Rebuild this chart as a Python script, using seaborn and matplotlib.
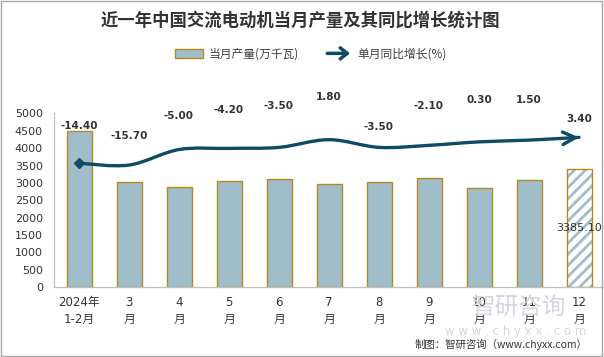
import numpy as np
import pandas as pd
import seaborn as sns
import matplotlib.pyplot as plt
from matplotlib.path import Path
from matplotlib.patches import PathPatch, Patch, Rectangle, FancyArrowPatch
from matplotlib.legend_handler import HandlerPatch


# ==========================================
# DATA
# ==========================================

months = ['2024年\n1-2月', '3\n月', '4\n月', '5\n月', '6\n月', '7\n月',
          '8\n月', '9\n月', '10\n月', '11\n月', '12\n月']

# 当月产量 (万千瓦)
output = [4490, 3015, 2875, 3045, 3110, 2960, 3015, 3130, 2845, 3085, 3385.10]

# 单月同比增长 (%)
growth = [-14.40, -15.70, -5.00, -4.20, -3.50, 1.80, -3.50, -2.10, 0.30, 1.50, 3.40]

title = '近一年中国交流电动机当月产量及其同比增长统计图'
bar_label = '当月产量(万千瓦)'
line_label = '单月同比增长(%)'
footer = '制图：智研咨询（www.chyxx.com）'

# ==========================================
# STYLE
# ==========================================

BAR_COLOR = '#A0BECA'
EDGE_COLOR = '#B8891E'
LINE_COLOR = '#0F4C63'
TEXT_COLOR = '#333333'

# vertical offset (points) of each growth label above its point
label_offsets = [27, 21, 24, 28, 30, 31, 15, 28, 30, 29, 13]

sns.set_theme(style='white')
plt.rcParams['font.family'] = ['DejaVu Sans', 'Noto Sans CJK SC']
plt.rcParams['hatch.linewidth'] = 2.0

W, H = 604, 357
fig = plt.figure(figsize=(W / 100, H / 100), dpi=100)
ax = fig.add_axes([54 / W, 1 - 287.3 / H, 550 / W, 174 / H])

df = pd.DataFrame({'month': months, 'output': output, 'growth': growth})

# ==========================================
# BARS
# ==========================================

sns.barplot(data=df, x='month', y='output', order=months, color=BAR_COLOR,
            edgecolor=EDGE_COLOR, linewidth=1.0, width=0.5, saturation=1,
            errorbar=None, ax=ax)

# last month is a hatched bar
last = ax.patches[len(months) - 1]
last.set_facecolor('white')
last.set_edgecolor(BAR_COLOR)
last.set_hatch('///')
last.set_linewidth(0)
ax.add_patch(Rectangle(last.get_xy(), last.get_width(), last.get_height(),
                       fill=False, edgecolor=EDGE_COLOR, linewidth=1.0, zorder=3))
ax.text(len(months) - 1, output[-1] / 2, f'{output[-1]:.2f}', ha='center',
        va='center', fontsize=8, color=TEXT_COLOR, zorder=4)

ax.set_xlim(-0.5, len(months) - 0.5)
ax.set_ylim(0, 5000)
ax.set_yticks(np.arange(0, 5001, 500))
ax.set_xlabel('')
ax.set_ylabel('')
for side in ['top', 'right']:
    ax.spines[side].set_visible(False)
for side in ['left', 'bottom']:
    ax.spines[side].set_color('#BFBFBF')
    ax.spines[side].set_linewidth(0.9)
ax.tick_params(axis='y', length=0, pad=8, labelsize=8, colors='#333333')
ax.tick_params(axis='x', length=0, pad=6, labelsize=8.5, colors='#333333')
for lbl in ax.get_xticklabels():
    lbl.set_linespacing(1.45)

# ==========================================
# GROWTH LINE (secondary axis, hidden)
# ==========================================

ax2 = ax.twinx()
ax2.set_ylim(-100, 20)
ax2.axis('off')

x = np.arange(len(growth), dtype=float)
y = np.array(growth, dtype=float)
pts = np.column_stack([x, y])
ext = np.vstack([pts[0], pts, pts[-1]])

# smoothed line like Excel's "smooth line" option
verts = [pts[0]]
codes = [Path.MOVETO]
for i in range(len(pts) - 1):
    p0, p1, p2, p3 = ext[i], ext[i + 1], ext[i + 2], ext[i + 3]
    c1 = p1 + (p2 - p0) / 6
    c2 = p2 - (p3 - p1) / 6
    verts += [c1, c2, p2]
    codes += [Path.CURVE4] * 3

ax2.add_patch(PathPatch(Path(verts, codes), fill=False, edgecolor=LINE_COLOR,
                        linewidth=2.4, capstyle='round', zorder=5))
ax2.annotate('', xy=verts[-1], xytext=verts[-2],
             arrowprops=dict(arrowstyle='->,head_length=0.9,head_width=0.45',
                             color=LINE_COLOR, lw=2.4, mutation_scale=10,
                             shrinkA=0, shrinkB=0), zorder=6)
ax2.plot(x[:1], y[:1], marker='D', markersize=5, color=LINE_COLOR, zorder=6)

for xi, yi, off in zip(x, y, label_offsets):
    ax2.annotate(f'{yi:.2f}', (xi, yi), xytext=(0, off), textcoords='offset points',
                 ha='center', va='center', fontsize=7.5, fontweight='bold',
                 color=TEXT_COLOR)

# ==========================================
# LEGEND, TITLE, FOOTER
# ==========================================


def make_arrow(legend, orig_handle, xdescent, ydescent, width, height, fontsize):
    return FancyArrowPatch((-xdescent, height / 2 - ydescent),
                           (width - xdescent, height / 2 - ydescent),
                           arrowstyle='->,head_length=5,head_width=4')


handles = [
    Patch(facecolor=BAR_COLOR, edgecolor=EDGE_COLOR, linewidth=1.0, label=bar_label),
    Patch(facecolor=LINE_COLOR, edgecolor=LINE_COLOR, linewidth=2.5, label=line_label),
]
fig.legend(handles=handles, loc='center', bbox_to_anchor=(311 / W, 1 - 54 / H),
           ncol=2, frameon=False, handlelength=2.4,
           handletextpad=0.4, columnspacing=2.2, labelcolor='#404040',
           prop={'family': ['Noto Sans CJK SC'], 'size': 8.5},
           handler_map={handles[1]: HandlerPatch(patch_func=make_arrow)})

fig.text(300 / W, 1 - 21 / H, title, ha='center', va='center', fontsize=12.5,
         fontweight='bold', color=TEXT_COLOR, family=['Noto Sans CJK SC'])

# watermark
fig.text(518 / W, 1 - 308 / H, '智研咨询', ha='center', va='center', fontsize=17,
         color='#D3D7DE', family=['Noto Sans CJK SC'], zorder=0)
fig.text(516 / W, 1 - 332 / H, 'w w w . c h y x x . c o m', ha='center',
         va='center', fontsize=8.5, color='#D3D7DE', zorder=0)

fig.text(587 / W, 1 - 344 / H, footer, ha='right', va='center', fontsize=7.5,
         color=TEXT_COLOR, family=['Noto Sans CJK SC'])

fig.patches.append(Rectangle((0.001, 0.002), 0.996, 0.996, transform=fig.transFigure,
                             fill=False, edgecolor='#A6A6A6', linewidth=1.0))

fig.savefig('out.png', dpi=100)
